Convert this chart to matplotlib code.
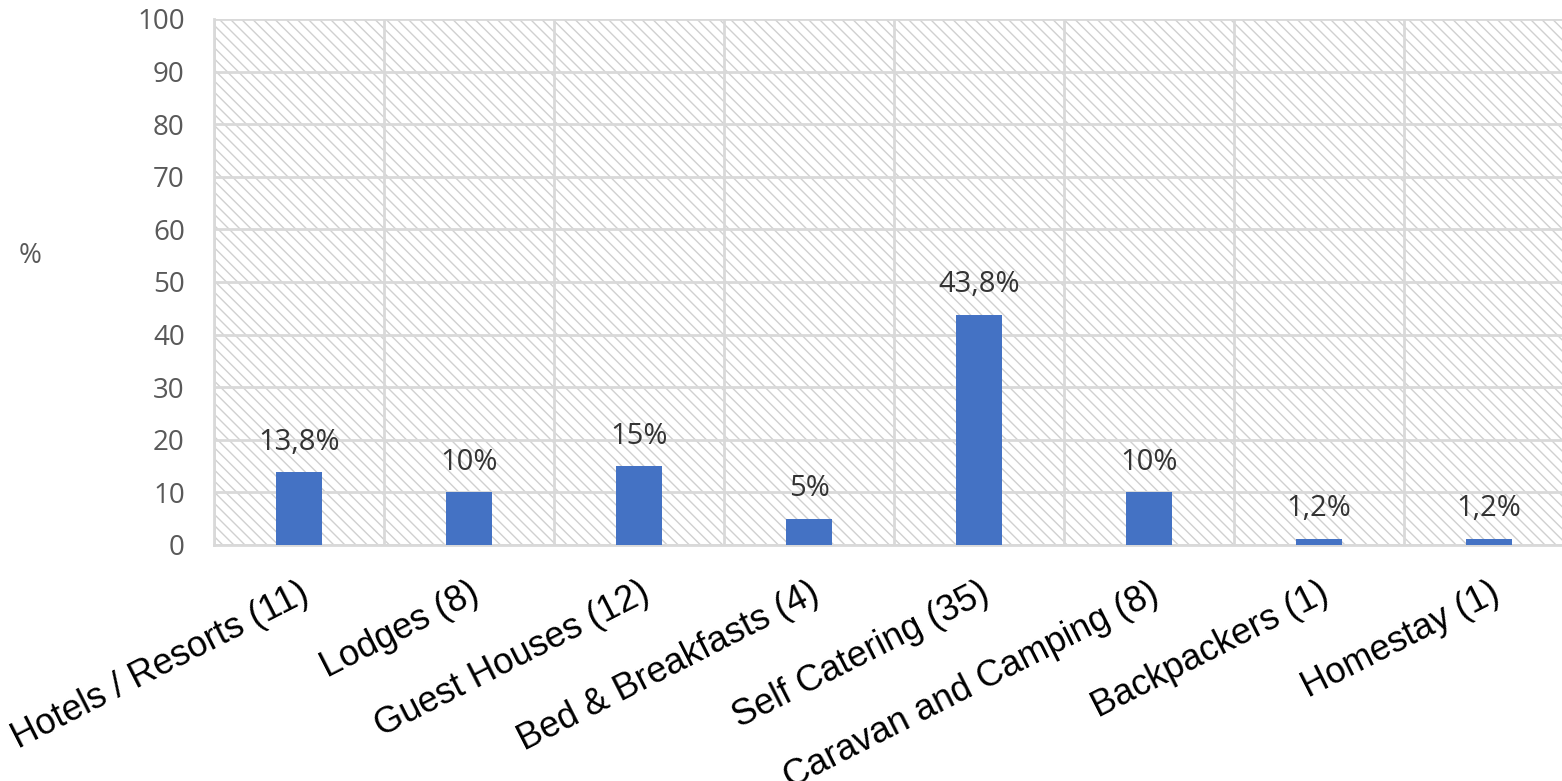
import numpy as np
import matplotlib
matplotlib.use("Agg")
import matplotlib.pyplot as plt
from matplotlib.patches import Rectangle

categories = ["Hotels / Resorts (11)", "Lodges (8)", "Guest Houses (12)",
              "Bed & Breakfasts (4)", "Self Catering (35)",
              "Caravan and Camping (8)", "Backpackers (1)", "Homestay (1)"]
percent = [13.8, 10, 15, 5, 43.8, 10, 1.2, 1.2]
value_labels = ["13,8%", "10%", "15%", "5%", "43,8%", "10%", "1,2%", "1,2%"]

grid_col = "#d9d9d9"
plt.rcParams["hatch.color"] = "#d0d0d0"
plt.rcParams["hatch.linewidth"] = 1.0

fig = plt.figure(figsize=(15.62, 7.81), dpi=100)
ax = fig.add_axes([0.1370, 0.3022, 0.8707, 0.6735])

# hatched plot background
bg = Rectangle((0, 0), 1, 1, transform=ax.transAxes, facecolor="white",
               edgecolor="#d0d0d0", linewidth=0, hatch="\\\\\\", zorder=0.1)
ax.add_patch(bg)

x = np.arange(len(categories))
ax.bar(x, percent, width=0.265, color="#4472C4", zorder=3)

for xi, v, lab in zip(x, percent, value_labels):
    ax.annotate(lab, (xi, v), xytext=(0, 11), textcoords="offset points",
                ha="center", va="bottom", fontsize=21, family="Open Sans",
                color="#333333", zorder=4)

ax.set_xlim(-0.5, len(categories) - 0.5)
ax.set_ylim(0, 100)
ax.set_yticks(np.arange(0, 101, 10))
ax.set_xticks(x)
ax.set_xticks(np.arange(-0.5, len(categories), 1), minor=True)
ax.set_xticklabels(categories, rotation=27, ha="right", rotation_mode="anchor",
                   fontsize=26, family="Liberation Sans", color="black")
for lab in ax.get_yticklabels():
    lab.set_family("Open Sans")
ax.tick_params(axis="y", length=0, pad=21, labelsize=20, labelcolor="#595959")
ax.tick_params(axis="x", which="both", length=0, pad=22)

ax.set_axisbelow(True)
ax.grid(axis="y", color=grid_col, linewidth=2, zorder=1)
ax.grid(axis="x", which="minor", color=grid_col, linewidth=2, zorder=1)

for side in ["top", "right"]:
    ax.spines[side].set_visible(False)
for side in ["left", "bottom"]:
    ax.spines[side].set_color(grid_col)
    ax.spines[side].set_linewidth(2)

fig.text(30 / 1562, 1 - 256 / 781, "%", fontsize=20, family="Open Sans",
         color="#595959", ha="center", va="center")

fig.savefig("out.png", dpi=100)
